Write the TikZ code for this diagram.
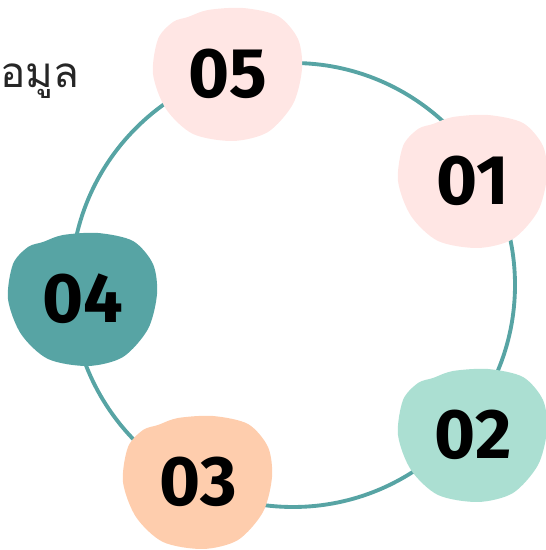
\documentclass[tikz,border=0pt]{standalone}
\usepackage{fontspec}
\newfontfamily\thaifont[Script=Thai]{Loma}
\newfontfamily\numfont{Fira Sans}
\definecolor{ringteal}{HTML}{57A4A4}
\definecolor{blobpink}{HTML}{FFE6E4}
\definecolor{blobmint}{HTML}{ABDFD2}
\definecolor{blobpeach}{HTML}{FECDAD}
\tikzset{
  num/.style={font=\numfont\bfseries\fontsize{40}{40}\selectfont, text=black},
  ring/.style={ringteal, line width=2.2pt}
}

\begin{document}
\begin{tikzpicture}
    \useasboundingbox (0,0) rectangle (10.92,11);

    % Titolo
    \node[font=\thaifont\fontsize{24}{28}\selectfont, text=black!85, anchor=base west, inner sep=0pt] (title) at (0,9.24) {อมูล};

    % Cerchio
    \coordinate (c) at (5.86,5.30);
    \draw[ring] (c) circle (4.44);

    % Macchie e numeri
    \foreach \n/\x/\y/\col in {01/9.46/7.38/blobpink, 02/9.46/2.30/blobmint, 03/3.96/1.36/blobpeach, 04/1.66/5.02/ringteal, 05/4.56/9.52/blobpink} {
        \fill[\col, shift={(\x,\y)}] plot[smooth cycle] coordinates {
            (-0.80,1.14) (-0.40,1.28) (0.30,1.32) (1.00,1.16) (1.40,0.70)
            (1.48,0.10) (1.30,-0.60) (0.80,-1.16) (0.10,-1.34) (-0.70,-1.20)
            (-1.24,-0.70) (-1.50,0) (-1.40,0.70) (-1.10,1.04)};
        \node[num] (b\n) at (\x,\y) {\n};
    }
\end{tikzpicture}
\end{document}
